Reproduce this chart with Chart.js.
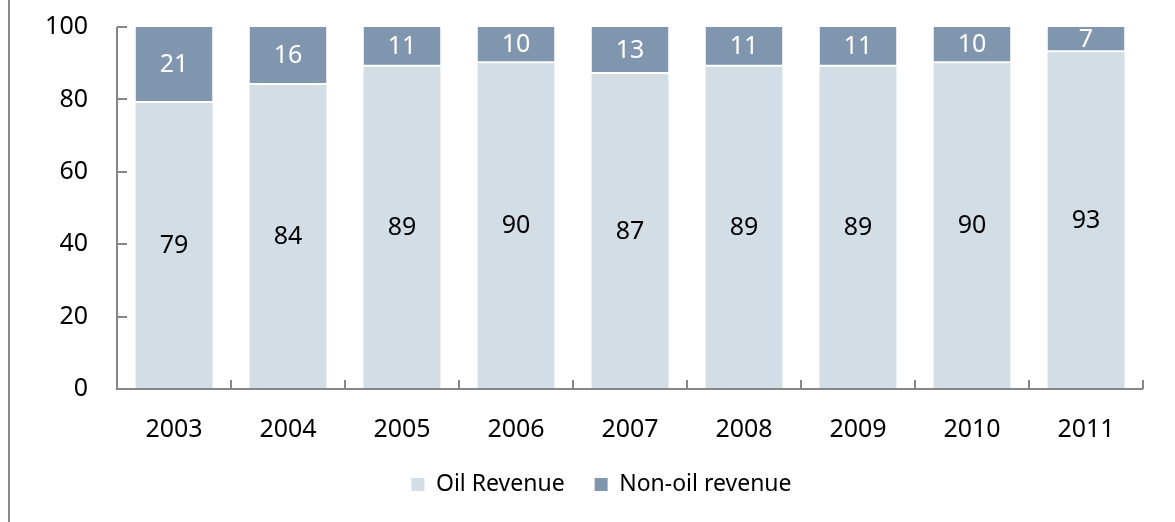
<!DOCTYPE html>
<html>
<head>
<meta charset="utf-8">
<script src="https://cdn.jsdelivr.net/npm/chart.js@4/dist/chart.umd.min.js"></script>
<style>
  html, body { margin: 0; padding: 0; background: #fff; }
  #wrap { position: relative; width: 1175px; height: 522px; }
  #frame { position: absolute; left: 8px; top: 0; width: 2px; height: 522px; background: #8a8a8a; }
  canvas { position: absolute; left: 0; top: 0; }
</style>
</head>
<body>
<div id="wrap">
  <canvas id="chart" width="1175" height="522"></canvas>
  <div id="frame"></div>
</div>
<script>
const years = ['2003', '2004', '2005', '2006', '2007', '2008', '2009', '2010', '2011'];
const oilRevenue = [79, 84, 89, 90, 87, 89, 89, 90, 93];
const nonOilRevenue = [21, 16, 11, 10, 13, 11, 11, 10, 7];
const yTicks = [0, 20, 40, 60, 80, 100];

const FONT = '"Noto Sans", "Open Sans", sans-serif';
const AXIS = '#868686';

// labels in the middle of each segment
const segmentLabels = {
  id: 'segmentLabels',
  afterDatasetsDraw(chart) {
    const ctx = chart.ctx;
    ctx.save();
    ctx.font = `25px ${FONT}`;
    ctx.textAlign = 'center';
    ctx.textBaseline = 'middle';
    chart.data.datasets.forEach((ds, i) => {
      chart.getDatasetMeta(i).data.forEach((bar, j) => {
        const { x, y, base } = bar.getProps(['x', 'y', 'base'], true);
        ctx.fillStyle = ds.labelColor;
        ctx.fillText(String(ds.data[j]), x, (y + base) / 2);
      });
    });
    ctx.restore();
  },
};

// axis lines with inward ticks, like the office chart
const axisTicks = {
  id: 'axisTicks',
  afterDraw(chart) {
    const { ctx, chartArea: area, scales: { x, y } } = chart;
    ctx.save();
    ctx.strokeStyle = AXIS;
    ctx.lineWidth = 2;
    ctx.beginPath();
    ctx.moveTo(area.left, area.top);
    ctx.lineTo(area.left, area.bottom);
    ctx.lineTo(area.right, area.bottom);
    for (const v of yTicks) {
      const py = Math.round(y.getPixelForValue(v));
      ctx.moveTo(area.left, py);
      ctx.lineTo(area.left + 10, py);
    }
    for (let i = 0; i <= years.length; i++) {
      const px = Math.round(x.getPixelForValue(i - 0.5));
      ctx.moveTo(px, area.bottom);
      ctx.lineTo(px, area.bottom - 9);
    }
    ctx.stroke();
    ctx.restore();
  },
};

// the legend in the original sits a little right of centre
const legendShift = {
  id: 'legendShift',
  afterLayout(chart) {
    chart.legend.left += 30;
    chart.legend.right += 30;
  },
};

new Chart(document.getElementById('chart'), {
  type: 'bar',
  data: {
    labels: years,
    datasets: [
      { label: 'Oil Revenue', data: oilRevenue, backgroundColor: '#d3dde6', labelColor: '#000' },
      {
        label: 'Non-oil revenue', data: nonOilRevenue, backgroundColor: '#8096ae', labelColor: '#fff',
        borderColor: '#fff', borderWidth: { top: 0, left: 0, right: 0, bottom: 2 }, borderSkipped: false,
      },
    ],
  },
  options: {
    responsive: false,
    animation: false,
    layout: { padding: { left: 0, right: 32, top: 27, bottom: 16 } },
    datasets: { bar: { categoryPercentage: 1, barPercentage: 0.675 } },
    scales: {
      x: {
        stacked: true,
        grid: { display: false },
        border: { display: false },
        ticks: { color: '#000', font: { family: FONT, size: 25 }, padding: 18 },
        afterFit: (s) => { s.height = 54; },
      },
      y: {
        stacked: true,
        min: 0,
        max: 100,
        afterBuildTicks: (s) => { s.ticks = yTicks.map((v) => ({ value: v })); },
        grid: { display: false },
        border: { display: false },
        ticks: { color: '#000', font: { family: FONT, size: 25 }, padding: 21 },
        afterFit: (s) => { s.width = 117; s.paddingTop = 0; s.paddingBottom = 0; },
      },
    },
    plugins: {
      legend: {
        position: 'bottom',
        labels: {
          color: '#000',
          font: { family: FONT, size: 23 },
          boxWidth: 13,
          boxHeight: 13,
          padding: 30,
          generateLabels: (chart) => chart.data.datasets.map((ds, i) => ({
            text: ds.label, fillStyle: ds.backgroundColor, strokeStyle: ds.backgroundColor, lineWidth: 0, datasetIndex: i,
          })),
        },
      },
      tooltip: { enabled: false },
    },
  },
  plugins: [segmentLabels, axisTicks, legendShift],
});
</script>
</body>
</html>
